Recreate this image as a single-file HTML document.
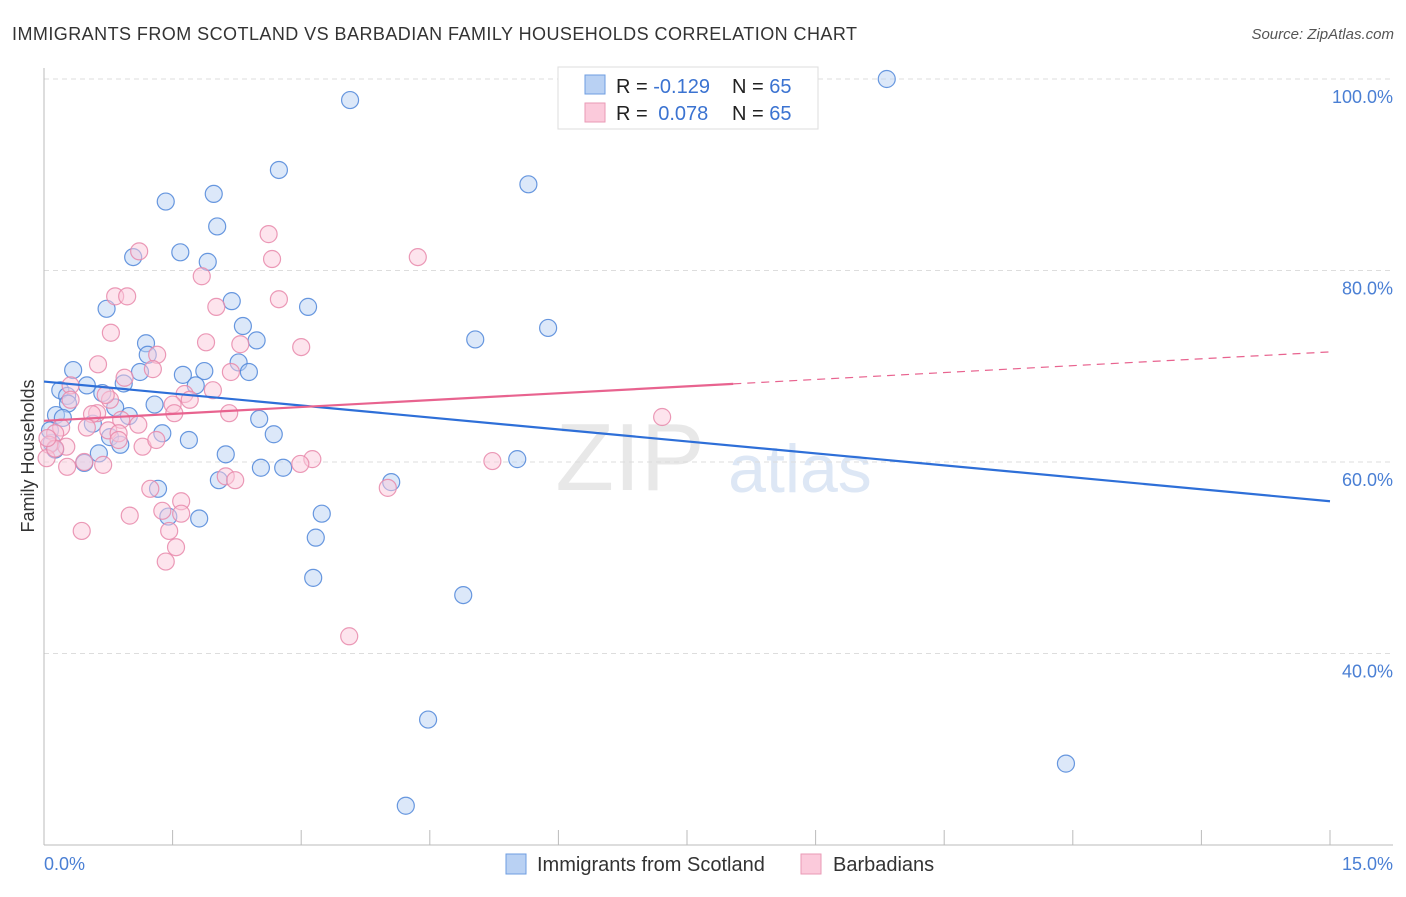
<!DOCTYPE html>
<html><head><meta charset="utf-8">
<style>
body{margin:0;background:#fff;font-family:"Liberation Sans",sans-serif;}
svg text{font-family:"Liberation Sans",sans-serif;}
</style></head>
<body>
<svg id="chart" width="1406" height="892">
<text x="12" y="40" font-size="18" fill="#333" textLength="845">IMMIGRANTS FROM SCOTLAND VS BARBADIAN FAMILY HOUSEHOLDS CORRELATION CHART</text>
<text x="1394" y="39" font-size="15" fill="#555" font-style="italic" text-anchor="end">Source: ZipAtlas.com</text>
<text x="630" y="490" font-size="96" fill="#e8e8e8" font-family="Liberation Serif" text-anchor="middle">ZIP</text>
<text x="800" y="492" font-size="68" fill="#dde7f5" text-anchor="middle">atlas</text>
<g id="grid"></g>
<g id="axes"></g>
<g id="pts"></g>
<g id="trends"></g>
<text transform="translate(34,456) rotate(-90)" font-size="18" fill="#333" text-anchor="middle">Family Households</text>
<g>
<rect x="558" y="67" width="260" height="62" fill="#fff" stroke="#ddd"/>
<rect x="585" y="75" width="20" height="19" fill="#b9d1f3" stroke="#6e9de0"/>
<rect x="585" y="103" width="20" height="19" fill="#fbcadb" stroke="#ea9ab6"/>
<text x="616" y="93" font-size="20" fill="#222">R = <tspan fill="#3b73d1">-0.129</tspan></text>
<text x="732" y="93" font-size="20" fill="#222">N = <tspan fill="#3b73d1">65</tspan></text>
<text x="616" y="120" font-size="20" fill="#222">R = <tspan fill="#3b73d1" dx="5">0.078</tspan></text>
<text x="732" y="120" font-size="20" fill="#222">N = <tspan fill="#3b73d1">65</tspan></text>
</g>
<g>
<rect x="506" y="854" width="20" height="20" fill="#b9d1f3" stroke="#6e9de0"/>
<text x="537" y="871" font-size="20" fill="#333">Immigrants from Scotland</text>
<rect x="801" y="854" width="20" height="20" fill="#fbcadb" stroke="#ea9ab6"/>
<text x="833" y="871" font-size="20" fill="#333">Barbadians</text>
</g>
</svg>
<script>
const yTicks=[40,60,80,100];
const yTickLabels=["40.0%","60.0%","80.0%","100.0%"];
const xTickLabels=["0.0%","15.0%"];
const scotX=[9.83,3.57,2.74,5.65,1.98,1.42,2.02,1.59,1.04,1.91,2.19,3.08,0.73,2.32,5.88,1.19,2.48,5.03,1.21,2.27,0.34,2.39,1.12,1.87,1.62,0.93,0.50,1.77,0.19,0.68,0.27,1.29,0.83,0.28,0.14,0.22,0.57,0.99,2.51,1.38,0.77,2.68,0.89,1.69,0.64,2.12,0.47,5.52,2.53,2.79,2.04,4.05,1.33,3.24,1.45,1.81,3.17,3.14,4.89,4.48,11.92,4.22,0.09,0.13,0.07];
const scotY=[100.0,97.8,90.5,89.0,88.0,87.2,84.6,81.9,81.4,80.9,76.8,76.2,76.0,74.2,74.0,72.4,72.7,72.8,71.2,70.4,69.6,69.4,69.4,69.5,69.1,68.2,68.0,68.0,67.5,67.2,66.9,66.0,65.7,66.1,64.9,64.6,64.0,64.8,64.5,63.0,62.6,62.9,61.8,62.3,60.9,60.8,59.9,60.3,59.4,59.4,58.1,57.9,57.2,54.6,54.3,54.1,52.1,47.9,46.1,33.1,28.5,24.1,62.0,61.3,63.3];
const barbX=[3.56,4.36,2.62,2.66,1.11,1.84,0.83,0.97,2.74,2.01,0.78,1.89,3.00,1.32,0.63,2.29,1.27,2.18,0.94,0.31,1.97,1.64,0.77,1.50,0.31,0.62,1.52,0.56,2.16,0.90,1.10,0.20,0.50,0.75,0.13,0.87,0.26,1.15,1.31,0.06,0.03,3.13,2.99,0.69,0.27,5.23,2.12,2.23,4.01,1.24,1.60,1.38,1.60,1.00,1.46,0.44,1.54,1.42,7.21,0.87,1.70,0.72,0.47,0.13,0.04];
const barbY=[41.8,81.4,83.8,81.2,82.0,79.4,77.3,77.3,77.0,76.2,73.5,72.5,72.0,71.2,70.2,72.3,69.7,69.4,68.8,68.0,67.5,67.1,66.5,66.0,66.5,65.1,65.1,65.0,65.1,64.4,63.9,63.6,63.6,63.3,63.0,63.0,61.6,61.6,62.3,61.8,60.4,60.3,59.8,59.7,59.5,60.1,58.5,58.1,57.3,57.2,55.9,54.9,54.6,54.4,52.8,52.8,51.1,49.6,64.7,62.3,66.5,67.0,60.0,61.4,62.5];
const scotTrend=[68.4,55.9];
const barbTrend=[64.3,71.5];
const barbSolidEnd=8.04;

const NS="http://www.w3.org/2000/svg";
const sx=v=>44+v/15*1286;
const sy=v=>79+(100-v)/20*191.5;
function mk(tag,attrs,parent){const e=document.createElementNS(NS,tag);for(const k in attrs)e.setAttribute(k,attrs[k]);parent.appendChild(e);return e;}
const grid=document.getElementById('grid'),axes=document.getElementById('axes'),pts=document.getElementById('pts'),tr=document.getElementById('trends');
yTicks.forEach((t,i)=>{
 const l=mk('line',{x1:44,x2:1393,y1:sy(t),y2:sy(t),stroke:'#ddd','stroke-dasharray':'5,4'},grid);
 
 
 const tx=mk('text',{x:1393,y:sy(t)+24,'font-size':18,fill:'#4a7fd4','text-anchor':'end'},axes);
 tx.textContent=yTickLabels[i];
 
 
});
const ya=mk('line',{x1:44,x2:44,y1:68,y2:845,stroke:'#bbb'},axes);


const xa=mk('line',{x1:44,x2:1393,y1:845,y2:845,stroke:'#bbb'},axes);


for(let i=0;i<=10;i++){
 const tk=mk('line',{x1:sx(i*1.5),x2:sx(i*1.5),y1:830,y2:845,stroke:'#bbb'},axes);
 
 
}
[[0,'start',44],[1,'end',1393]].forEach(([i,a,x])=>{
 const t=mk('text',{x:x,y:870,'font-size':18,fill:'#4a7fd4','text-anchor':a},axes);
 t.textContent=xTickLabels[i];
 
 
});
function drawPts(X,Y,fill,stroke,name){
 X.forEach((x,i)=>{
  const c=mk('circle',{cx:sx(x),cy:sy(Y[i]),r:8.5,fill:fill,'fill-opacity':0.5,stroke:stroke,'stroke-width':1.2,'stroke-opacity':0.85},pts);
  
  
 });
}
drawPts(scotX,scotY,'#b9d1f3','#4f86d9','point-scotland');
drawPts(barbX,barbY,'#fbcadb','#e888aa','point-barbadian');
const bl=mk('line',{x1:sx(0),y1:sy(scotTrend[0]),x2:sx(15),y2:sy(scotTrend[1]),stroke:'#2e6fd8','stroke-width':2.2},tr);


const pAt=x=>barbTrend[0]+(barbTrend[1]-barbTrend[0])*x/15;
const pl=mk('line',{x1:sx(0),y1:sy(pAt(0)),x2:sx(barbSolidEnd),y2:sy(pAt(barbSolidEnd)),stroke:'#e8638f','stroke-width':2.2},tr);


const pd=mk('line',{x1:sx(barbSolidEnd),y1:sy(pAt(barbSolidEnd)),x2:sx(15),y2:sy(pAt(15)),stroke:'#e8638f','stroke-width':1.2,'stroke-dasharray':'8,6'},tr);


</script>
</body></html>
